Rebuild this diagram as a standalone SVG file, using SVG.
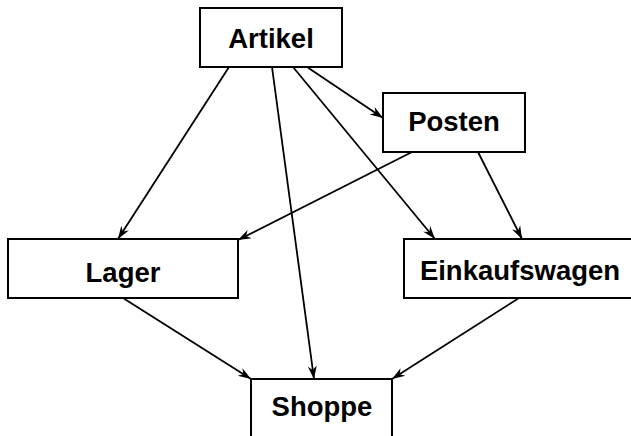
<svg xmlns="http://www.w3.org/2000/svg" width="631" height="436" viewBox="0 0 631 436">
<style>
.box{fill:#fff;stroke:#000;stroke-width:2}
.lbl{font-family:"Liberation Sans",Arial,Helvetica,sans-serif;font-weight:bold;font-size:27.5px;text-anchor:middle;fill:#000}
.edge{stroke:#000;stroke-width:1.8;fill:none;marker-end:url(#arr)}
</style>
<defs>
<marker id="arr" markerUnits="userSpaceOnUse" viewBox="-14 -6 15 12" refX="0" refY="0" markerWidth="15" markerHeight="12" orient="auto">
<path d="M0,0 L-13,-4.5 L-9,0 L-13,4.5 Z" fill="#000"/>
</marker>
</defs>
<rect width="631" height="436" fill="#fff"/>
<g id="edges">
<line class="edge" x1="229" y1="67" x2="118" y2="239"/>
<line class="edge" x1="272" y1="67" x2="314" y2="379"/>
<line class="edge" x1="293" y1="67" x2="435" y2="239"/>
<line class="edge" x1="307" y1="67" x2="383" y2="118"/>
<line class="edge" x1="412" y1="152" x2="238" y2="240"/>
<line class="edge" x1="478" y1="152" x2="522" y2="239"/>
<line class="edge" x1="123" y1="298" x2="251" y2="379"/>
<line class="edge" x1="519" y1="298" x2="392" y2="379"/>
</g>
<g id="artikel">
<rect class="box" x="200" y="8" width="142" height="59"/>
<text class="lbl" x="271" y="48">Artikel</text>
</g>
<g id="posten">
<rect class="box" x="383" y="93" width="142" height="59"/>
<text class="lbl" x="454" y="131">Posten</text>
</g>
<g id="lager">
<rect class="box" x="8" y="239" width="230" height="59"/>
<text class="lbl" x="123" y="282">Lager</text>
</g>
<g id="einkaufswagen">
<rect class="box" x="404" y="239" width="232" height="59"/>
<text class="lbl" x="520" y="280">Einkaufswagen</text>
</g>
<g id="shoppe">
<rect class="box" x="251" y="379" width="141" height="70"/>
<text class="lbl" x="322" y="416">Shoppe</text>
</g>
</svg>
